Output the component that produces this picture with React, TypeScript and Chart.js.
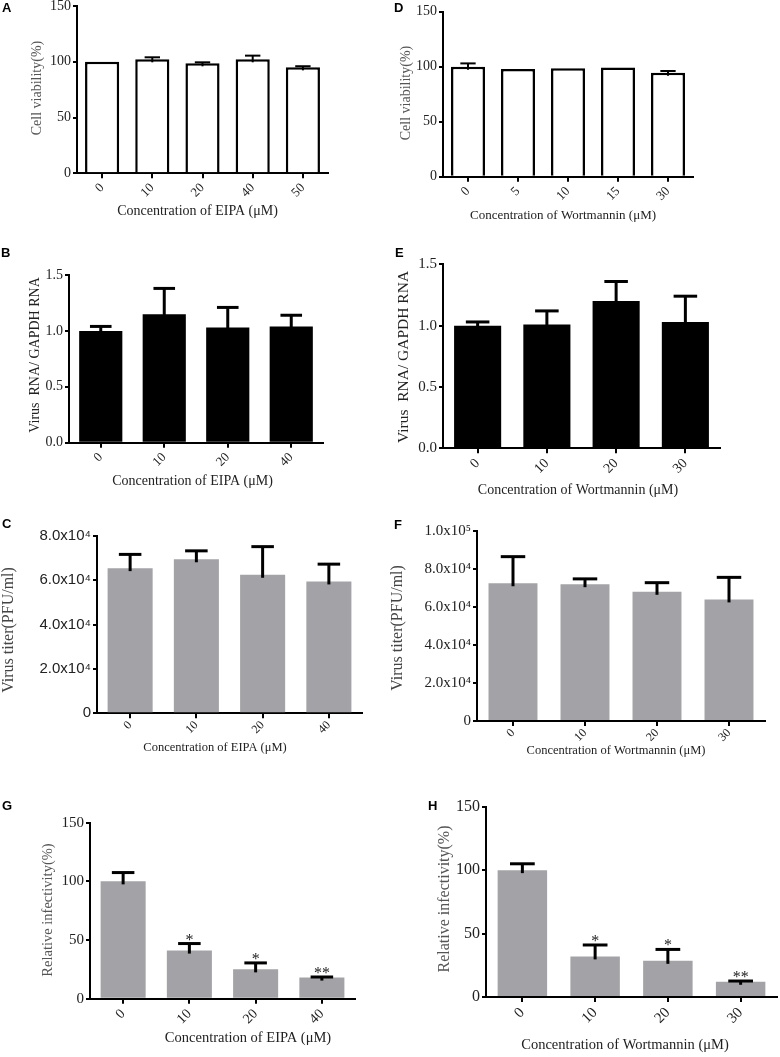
import React, { useEffect, useRef } from 'react';
import { Chart, registerables } from 'chart.js';
Chart.register(...registerables);

// ---------- DATA ----------
const aCategories = ['0', '10', '20', '40', '50'];
const aMeans = [100, 102.2, 98.6, 102.2, 95];
const aSD = [0, 1.8, 0.9, 3.3, 1];

const dCategories = ['0', '5', '10', '15', '30'];
const dMeans = [100, 98, 98.6, 99.2, 94.6];
const dSD = [3, 0, 0, 0, 1.5];

const bCategories = ['0', '10', '20', '40'];
const bMeans = [1.0, 1.15, 1.03, 1.04];
const bSD = [0.04, 0.23, 0.18, 0.1];

const eCategories = ['0', '10', '20', '30'];
const eMeans = [1.0, 1.01, 1.2, 1.03];
const eSD = [0.03, 0.11, 0.16, 0.21];

const cCategories = ['0', '10', '20', '40'];
const cMeans = [65500, 69500, 62500, 59500];
const cSD = [6200, 3800, 12700, 7800];
const cTickLabels = ['0', '2.0x10⁴', '4.0x10⁴', '6.0x10⁴', '8.0x10⁴'];

const fCategories = ['0', '10', '20', '30'];
const fMeans = [72500, 72000, 68000, 64000];
const fSD = [14000, 2800, 4800, 11600];
const fTickLabels = ['0', '2.0x10⁴', '4.0x10⁴', '6.0x10⁴', '8.0x10⁴', '1.0x10⁵'];

const gCategories = ['0', '10', '20', '40'];
const gMeans = [100, 41, 25, 18];
const gSD = [7.5, 6, 5.5, 0.5];
const gStars = ['', '*', '*', '**'];

const hCategories = ['0', '10', '20', '30'];
const hMeans = [100, 32, 28.5, 12];
const hSD = [5, 9, 9, 0.6];
const hStars = ['', '*', '*', '**'];

const eipaTitle = 'Concentration of EIPA (μM)';
const wortTitle = 'Concentration of Wortmannin (μM)';

// ---------- STYLES / LAYOUT ----------
const SERIF = '"Liberation Serif", "Times New Roman", serif';
const SANS = '"Liberation Sans", Arial, sans-serif';
const GREY = '#a3a3a7';

type Spec = {
  letter: string;
  letterPos: [number, number];
  categories: string[];
  means: number[];
  sd: number[];
  stars?: string[];
  yMax: number;
  yStep: number;
  yLabels?: string[];
  yDecimals: number;
  yTickFont: { family: string; size: number };
  xTickSize: number;
  xTickPad: number;
  fill: string;
  borderWidth: number;
  errWidth: number;
  capRatio: number;
  area: { L: number; T: number; R: number; B: number };
  canvas: { x0: number; y0: number; x1: number; y1: number };
  xTitle: string;
  xTitlePos: [number, number];
  xTitleSize: number;
  yTitle: string;
  yTitlePos: [number, number];
  yTitleSize: number;
  yTitleColor: string;
};

const specs: Spec[] = [
  {
    letter: 'A', letterPos: [6, 7.5], categories: aCategories, means: aMeans, sd: aSD,
    yMax: 150, yStep: 50, yDecimals: 0, yTickFont: { family: SERIF, size: 14 }, xTickSize: 13, xTickPad: 2,
    fill: '#ffffff', borderWidth: 2.5, errWidth: 2, capRatio: 0.45,
    area: { L: 77, T: 6, R: 328, B: 173.3 }, canvas: { x0: 0, y0: -14, x1: 345, y1: 226 },
    xTitle: eipaTitle, xTitlePos: [197.5, 211.7], xTitleSize: 14,
    yTitle: 'Cell viability(%)', yTitlePos: [37.5, 88], yTitleSize: 14, yTitleColor: '#555',
  },
  {
    letter: 'D', letterPos: [398, 7.5], categories: dCategories, means: dMeans, sd: dSD,
    yMax: 150, yStep: 50, yDecimals: 0, yTickFont: { family: SERIF, size: 14 }, xTickSize: 13, xTickPad: 2,
    fill: '#ffffff', borderWidth: 2.5, errWidth: 2, capRatio: 0.45,
    area: { L: 443, T: 11.7, R: 693, B: 176.7 }, canvas: { x0: 390, y0: -8, x1: 780, y1: 230 },
    xTitle: wortTitle, xTitlePos: [563, 216], xTitleSize: 13,
    yTitle: 'Cell viability(%)', yTitlePos: [406, 93], yTitleSize: 14, yTitleColor: '#555',
  },
  {
    letter: 'B', letterPos: [5, 253], categories: bCategories, means: bMeans, sd: bSD,
    yMax: 1.5, yStep: 0.5, yDecimals: 1, yTickFont: { family: SERIF, size: 14 }, xTickSize: 13, xTickPad: 2,
    fill: '#000000', borderWidth: 0, errWidth: 3, capRatio: 0.5,
    area: { L: 69, T: 275, R: 323, B: 442.7 }, canvas: { x0: 0, y0: 255, x1: 345, y1: 496 },
    xTitle: eipaTitle, xTitlePos: [192.5, 481.7], xTitleSize: 14,
    yTitle: 'Virus  RNA/ GAPDH RNA', yTitlePos: [35, 355], yTitleSize: 14, yTitleColor: '#222',
  },
  {
    letter: 'E', letterPos: [399, 253], categories: eCategories, means: eMeans, sd: eSD,
    yMax: 1.5, yStep: 0.5, yDecimals: 1, yTickFont: { family: SERIF, size: 15 }, xTickSize: 14, xTickPad: 2,
    fill: '#000000', borderWidth: 0, errWidth: 3, capRatio: 0.5,
    area: { L: 443, T: 264.3, R: 720, B: 448.3 }, canvas: { x0: 390, y0: 244, x1: 780, y1: 504 },
    xTitle: wortTitle, xTitlePos: [578, 490.7], xTitleSize: 14,
    yTitle: 'Virus  RNA/ GAPDH RNA', yTitlePos: [404, 357], yTitleSize: 15.5, yTitleColor: '#222',
  },
  {
    letter: 'C', letterPos: [6, 524], categories: cCategories, means: cMeans, sd: cSD,
    yMax: 80000, yStep: 20000, yLabels: cTickLabels, yDecimals: 0, yTickFont: { family: SANS, size: 15 }, xTickSize: 12, xTickPad: 0,
    fill: GREY, borderWidth: 0, errWidth: 3, capRatio: 0.5,
    area: { L: 97, T: 536, R: 362, B: 713.3 }, canvas: { x0: 0, y0: 516, x1: 375, y1: 762 },
    xTitle: eipaTitle, xTitlePos: [215, 748], xTitleSize: 12.5,
    yTitle: 'Virus titer(PFU/ml)', yTitlePos: [9, 630], yTitleSize: 16, yTitleColor: '#444',
  },
  {
    letter: 'F', letterPos: [398, 525], categories: fCategories, means: fMeans, sd: fSD,
    yMax: 100000, yStep: 20000, yLabels: fTickLabels, yDecimals: 0, yTickFont: { family: SERIF, size: 15 }, xTickSize: 12, xTickPad: 0,
    fill: GREY, borderWidth: 0, errWidth: 3, capRatio: 0.5,
    area: { L: 477, T: 531, R: 765, B: 721 }, canvas: { x0: 390, y0: 511, x1: 780, y1: 764 },
    xTitle: wortTitle, xTitlePos: [616, 751], xTitleSize: 12.5,
    yTitle: 'Virus titer(PFU/ml)', yTitlePos: [398, 628], yTitleSize: 16, yTitleColor: '#444',
  },
  {
    letter: 'G', letterPos: [6, 806], categories: gCategories, means: gMeans, sd: gSD, stars: gStars,
    yMax: 150, yStep: 50, yDecimals: 0, yTickFont: { family: SERIF, size: 15 }, xTickSize: 14, xTickPad: 2,
    fill: GREY, borderWidth: 0, errWidth: 3, capRatio: 0.5,
    area: { L: 90, T: 822.7, R: 355, B: 998.7 }, canvas: { x0: 0, y0: 802, x1: 370, y1: 1052 },
    xTitle: eipaTitle, xTitlePos: [248, 1038], xTitleSize: 14.5,
    yTitle: 'Relative infectivity(%)', yTitlePos: [48, 910], yTitleSize: 14.5, yTitleColor: '#555',
  },
  {
    letter: 'H', letterPos: [432, 806], categories: hCategories, means: hMeans, sd: hSD, stars: hStars,
    yMax: 150, yStep: 50, yDecimals: 0, yTickFont: { family: SERIF, size: 16 }, xTickSize: 15, xTickPad: 2,
    fill: GREY, borderWidth: 0, errWidth: 3, capRatio: 0.5,
    area: { L: 486, T: 806.7, R: 777, B: 997 }, canvas: { x0: 406, y0: 786, x1: 780, y1: 1057 },
    xTitle: wortTitle, xTitlePos: [625, 1045], xTitleSize: 14.5,
    yTitle: 'Relative infectivity(%)', yTitlePos: [445, 899], yTitleSize: 16, yTitleColor: '#555',
  },
];

function makePlugin(spec: Spec) {
  return {
    id: 'decor' + spec.letter,
    afterDatasetsDraw(chart: any) {
      const ctx = chart.ctx;
      const meta = chart.getDatasetMeta(0);
      const ys = chart.scales.y;
      ctx.save();
      ctx.strokeStyle = '#000';
      ctx.fillStyle = '#222';
      ctx.lineWidth = spec.errWidth;
      meta.data.forEach((bar: any, i: number) => {
        const v = spec.means[i];
        const s = spec.sd[i];
        const capY = ys.getPixelForValue(v + s);
        if (s > 0) {
          const baseY = ys.getPixelForValue(v);
          const half = (bar.width * spec.capRatio) / 2;
          ctx.beginPath();
          ctx.moveTo(bar.x, baseY + 3);
          ctx.lineTo(bar.x, capY);
          ctx.stroke();
          ctx.beginPath();
          ctx.moveTo(bar.x - half, capY);
          ctx.lineTo(bar.x + half, capY);
          ctx.stroke();
        }
        if (spec.stars && spec.stars[i]) {
          ctx.font = `16px ${SERIF}`;
          ctx.textAlign = 'center';
          ctx.textBaseline = 'alphabetic';
          ctx.fillText(spec.stars[i], bar.x, capY + 1);
        }
      });
      ctx.restore();
    },
    afterDraw(chart: any) {
      const ctx = chart.ctx;
      const { x0, y0 } = spec.canvas;
      ctx.save();
      ctx.fillStyle = '#222';
      ctx.font = `${spec.xTitleSize}px ${SERIF}`;
      ctx.textAlign = 'center';
      ctx.textBaseline = 'middle';
      ctx.fillText(spec.xTitle, spec.xTitlePos[0] - x0, spec.xTitlePos[1] - y0);
      ctx.translate(spec.yTitlePos[0] - x0, spec.yTitlePos[1] - y0);
      ctx.rotate(-Math.PI / 2);
      ctx.fillStyle = spec.yTitleColor;
      ctx.font = `${spec.yTitleSize}px ${SERIF}`;
      ctx.fillText(spec.yTitle, 0, 0);
      ctx.restore();
    },
  };
}

function Panel({ spec }: { spec: Spec }) {
  const ref = useRef<HTMLCanvasElement>(null);
  const { x0, y0, x1, y1 } = spec.canvas;
  const w = x1 - x0;
  const h = y1 - y0;
  useEffect(() => {
    if (!ref.current) return;
    const { L, T, R, B } = spec.area;
    const chart = new Chart(ref.current, {
      type: 'bar',
      data: {
        labels: spec.categories,
        datasets: [
          {
            data: spec.means,
            backgroundColor: spec.fill,
            borderColor: '#000',
            borderWidth: spec.borderWidth,
            categoryPercentage: 1,
            barPercentage: 0.68,
          },
        ],
      },
      options: {
        responsive: false,
        animation: false,
        devicePixelRatio: 1,
        layout: { padding: { left: 0, top: T - y0, right: x1 - R, bottom: 0 } },
        plugins: { legend: { display: false }, tooltip: { enabled: false }, title: { display: false } },
        scales: {
          x: {
            offset: true,
            grid: { offset: false, drawOnChartArea: false, drawTicks: true, tickLength: 5, color: '#000', lineWidth: 2 },
            border: { display: true, color: '#000', width: 2 },
            ticks: {
              autoSkip: false, minRotation: 45, maxRotation: 45, padding: spec.xTickPad, color: '#222',
              font: { family: SERIF, size: spec.xTickSize },
            },
            afterFit: (s: any) => { s.height = y1 - B; },
          },
          y: {
            min: 0,
            max: spec.yMax,
            grid: { drawOnChartArea: false, drawTicks: true, tickLength: 4, color: '#000', lineWidth: 2 },
            border: { display: true, color: '#000', width: 2 },
            ticks: {
              stepSize: spec.yStep, padding: 2, color: '#222', font: spec.yTickFont,
              callback: (val: any, idx: number) =>
                spec.yLabels ? spec.yLabels[idx] : Number(val).toFixed(spec.yDecimals),
            },
            afterFit: (s: any) => { s.width = L - x0; },
          },
        },
      },
      plugins: [makePlugin(spec)],
    } as any);
    return () => chart.destroy();
  }, []);
  return (
    <canvas
      ref={ref}
      width={w}
      height={h}
      style={{ position: 'absolute', left: x0, top: y0, width: w, height: h }}
    />
  );
}

export default function App() {
  return (
    <div style={{ position: 'absolute', left: 0, top: 0, width: 780, height: 1057, background: '#fff', overflow: 'hidden' }}>
      {specs.map((s) => (
        <Panel key={s.letter} spec={s} />
      ))}
      {specs.map((s) => (
        <div
          key={'l' + s.letter}
          style={{
            position: 'absolute', left: s.letterPos[0] - 4, top: s.letterPos[1] - 8,
            font: `bold 13px ${SANS}`, lineHeight: '16px', color: '#000',
          }}
        >
          {s.letter}
        </div>
      ))}
    </div>
  );
}
